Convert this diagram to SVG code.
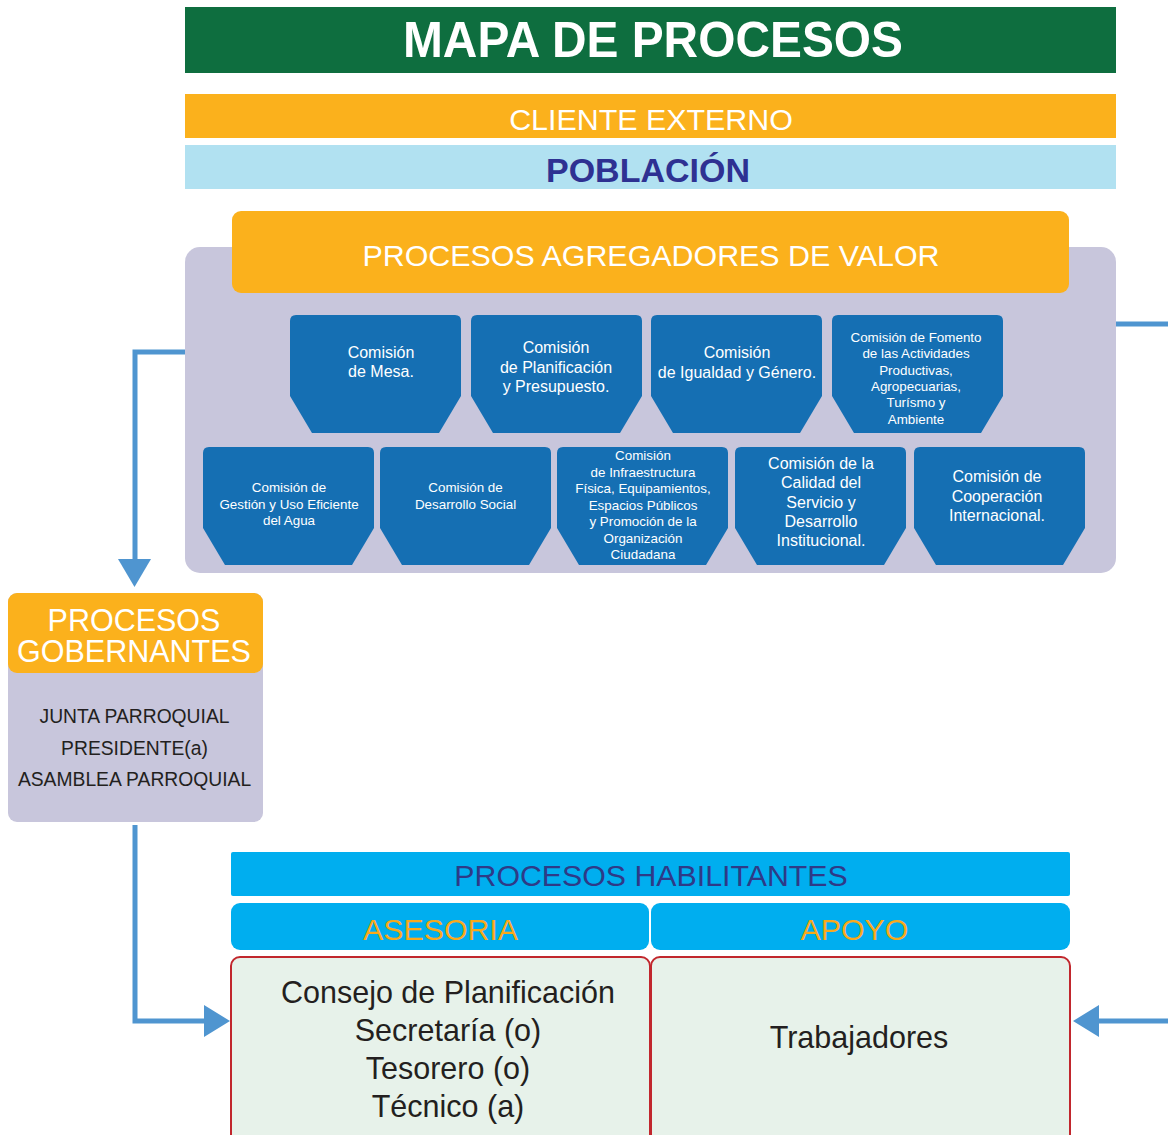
<svg xmlns="http://www.w3.org/2000/svg" xmlns:xlink="http://www.w3.org/1999/xlink" width="1168" height="1135" viewBox="0 0 1168 1135">
<style>
text{font-family:"Liberation Sans",Arial,sans-serif;text-anchor:middle}
.node{fill:#156fb3}
.nt{fill:#ffffff;font-size:16px}
.ns{fill:#ffffff;font-size:13.4px}
.conn{fill:none;stroke:#4f95d0;stroke-width:5}
.head{fill:#4f95d0}
.box{fill:#e7f2ea;stroke:#c1272d;stroke-width:2}
.bar{fill:#00aeef}
.sub{fill:#f9a91b;font-size:30.3px}
.gov{fill:#231f20;font-size:19.3px}
.hab{fill:#231f20;font-size:30.5px}
</style>
<defs>
<path id="nodeShape" d="M0,6 Q0,0 6,0 H165 Q171,0 171,6 V81 L149,118 H22 L0,81 Z"/>
</defs>

<g id="title">
<rect x="185" y="7" width="931" height="66" fill="#0e6e3f"/>
<text x="653" y="57" fill="#ffffff" font-size="50" font-weight="bold" textLength="500" lengthAdjust="spacingAndGlyphs">MAPA DE PROCESOS</text>
</g>
<g id="cliente">
<rect x="185" y="94" width="931" height="44" fill="#fbb11c"/>
<text x="651" y="130" fill="#ffffff" font-size="30.4">CLIENTE EXTERNO</text>
</g>
<g id="poblacion">
<rect x="185" y="145" width="931" height="44" fill="#b1e1f1"/>
<text x="648" y="182" fill="#2e3192" font-size="34" font-weight="bold">POBLACIÓN</text>
</g>

<g id="agregadores">
<rect x="185" y="247" width="931" height="326" rx="15" fill="#c8c6dc"/>
<rect x="232" y="211" width="837" height="82" rx="9" fill="#fbb11c"/>
<text x="651" y="266" fill="#ffffff" font-size="30.4">PROCESOS AGREGADORES DE VALOR</text>
</g>

<g id="n-mesa">
<use xlink:href="#nodeShape" href="#nodeShape" class="node" x="290" y="315"/>
<text class="nt" x="381" y="358">Comisión</text>
<text class="nt" x="381" y="377">de Mesa.</text>
</g>
<g id="n-planificacion">
<use xlink:href="#nodeShape" href="#nodeShape" class="node" x="471" y="315"/>
<text class="nt" x="556" y="353">Comisión</text>
<text class="nt" x="556" y="372.5">de Planificación</text>
<text class="nt" x="556" y="392">y Presupuesto.</text>
</g>
<g id="n-igualdad">
<use xlink:href="#nodeShape" href="#nodeShape" class="node" x="651" y="315"/>
<text class="nt" x="737" y="358">Comisión</text>
<text class="nt" x="737" y="378">de Igualdad y Género.</text>
</g>
<g id="n-fomento">
<use xlink:href="#nodeShape" href="#nodeShape" class="node" x="832" y="315"/>
<text class="ns" x="916" y="342">Comisión de Fomento</text>
<text class="ns" x="916" y="358.3">de las Actividades</text>
<text class="ns" x="916" y="374.6">Productivas,</text>
<text class="ns" x="916" y="390.9">Agropecuarias,</text>
<text class="ns" x="916" y="407.2">Turísmo y</text>
<text class="ns" x="916" y="423.5">Ambiente</text>
</g>

<g id="n-agua">
<use xlink:href="#nodeShape" href="#nodeShape" class="node" x="203" y="447"/>
<text class="ns" x="289" y="492">Comisión de</text>
<text class="ns" x="289" y="508.5">Gestión y Uso Eficiente</text>
<text class="ns" x="289" y="525">del Agua</text>
</g>
<g id="n-social">
<use xlink:href="#nodeShape" href="#nodeShape" class="node" x="380" y="447"/>
<text class="ns" x="465.5" y="492">Comisión de</text>
<text class="ns" x="465.5" y="508.5">Desarrollo Social</text>
</g>
<g id="n-infraestructura">
<use xlink:href="#nodeShape" href="#nodeShape" class="node" x="557" y="447"/>
<text class="ns" x="643" y="460">Comisión</text>
<text class="ns" x="643" y="476.5">de Infraestructura</text>
<text class="ns" x="643" y="493">Física, Equipamientos,</text>
<text class="ns" x="643" y="509.5">Espacios Públicos</text>
<text class="ns" x="643" y="526">y Promoción de la</text>
<text class="ns" x="643" y="542.5">Organización</text>
<text class="ns" x="643" y="559">Ciudadana</text>
</g>
<g id="n-calidad">
<use xlink:href="#nodeShape" href="#nodeShape" class="node" x="735" y="447"/>
<text class="nt" x="821" y="469">Comisión de la</text>
<text class="nt" x="821" y="488.3">Calidad del</text>
<text class="nt" x="821" y="507.6">Servicio y</text>
<text class="nt" x="821" y="526.9">Desarrollo</text>
<text class="nt" x="821" y="546.2">Institucional.</text>
</g>
<g id="n-cooperacion">
<use xlink:href="#nodeShape" href="#nodeShape" class="node" x="914" y="447"/>
<text class="nt" x="997" y="482">Comisión de</text>
<text class="nt" x="997" y="501.5">Cooperación</text>
<text class="nt" x="997" y="521">Internacional.</text>
</g>

<g id="gobernantes">
<rect x="8" y="593" width="255" height="229" rx="9" fill="#c8c6dc"/>
<rect x="8" y="593" width="255" height="80" rx="9" fill="#fbb11c"/>
<text x="134" y="631" fill="#ffffff" font-size="30.5">PROCESOS</text>
<text x="134" y="662" fill="#ffffff" font-size="30.5">GOBERNANTES</text>
<text class="gov" x="134.5" y="723">JUNTA PARROQUIAL</text>
<text class="gov" x="134.5" y="755">PRESIDENTE(a)</text>
<text class="gov" x="134.5" y="786">ASAMBLEA PARROQUIAL</text>
</g>

<g id="habilitantes">
<rect class="bar" x="231" y="852" width="839" height="44" rx="2"/>
<text x="651" y="886" fill="#2e3a87" font-size="30.3">PROCESOS HABILITANTES</text>
</g>
<g id="asesoria">
<rect class="bar" x="231" y="903" width="418" height="47" rx="9"/>
<text class="sub" x="440.5" y="940">ASESORIA</text>
<rect class="box" x="231" y="957" width="419" height="190" rx="9"/>
<text class="hab" x="448" y="1003">Consejo de Planificación</text>
<text class="hab" x="448" y="1041">Secretaría (o)</text>
<text class="hab" x="448" y="1079">Tesorero (o)</text>
<text class="hab" x="448" y="1117">Técnico (a)</text>
</g>
<g id="apoyo">
<rect class="bar" x="651" y="903" width="419" height="47" rx="9"/>
<text class="sub" x="854.5" y="940">APOYO</text>
<rect class="box" x="651" y="957" width="419" height="190" rx="9"/>
<text class="hab" x="859" y="1048" font-size="31.5">Trabajadores</text>
</g>

<g id="connectors">
<polyline class="conn" points="185,352 135,352 135,562"/>
<polygon class="head" points="118,559 151,559 134.5,587"/>
<polyline class="conn" points="135,825 135,1021 206,1021"/>
<polygon class="head" points="204,1005 204,1037 230,1021"/>
<line class="conn" x1="1116" y1="324" x2="1168" y2="324"/>
<line class="conn" x1="1097" y1="1021" x2="1168" y2="1021"/>
<polygon class="head" points="1099,1005 1099,1037 1073,1021"/>
</g>
</svg>
